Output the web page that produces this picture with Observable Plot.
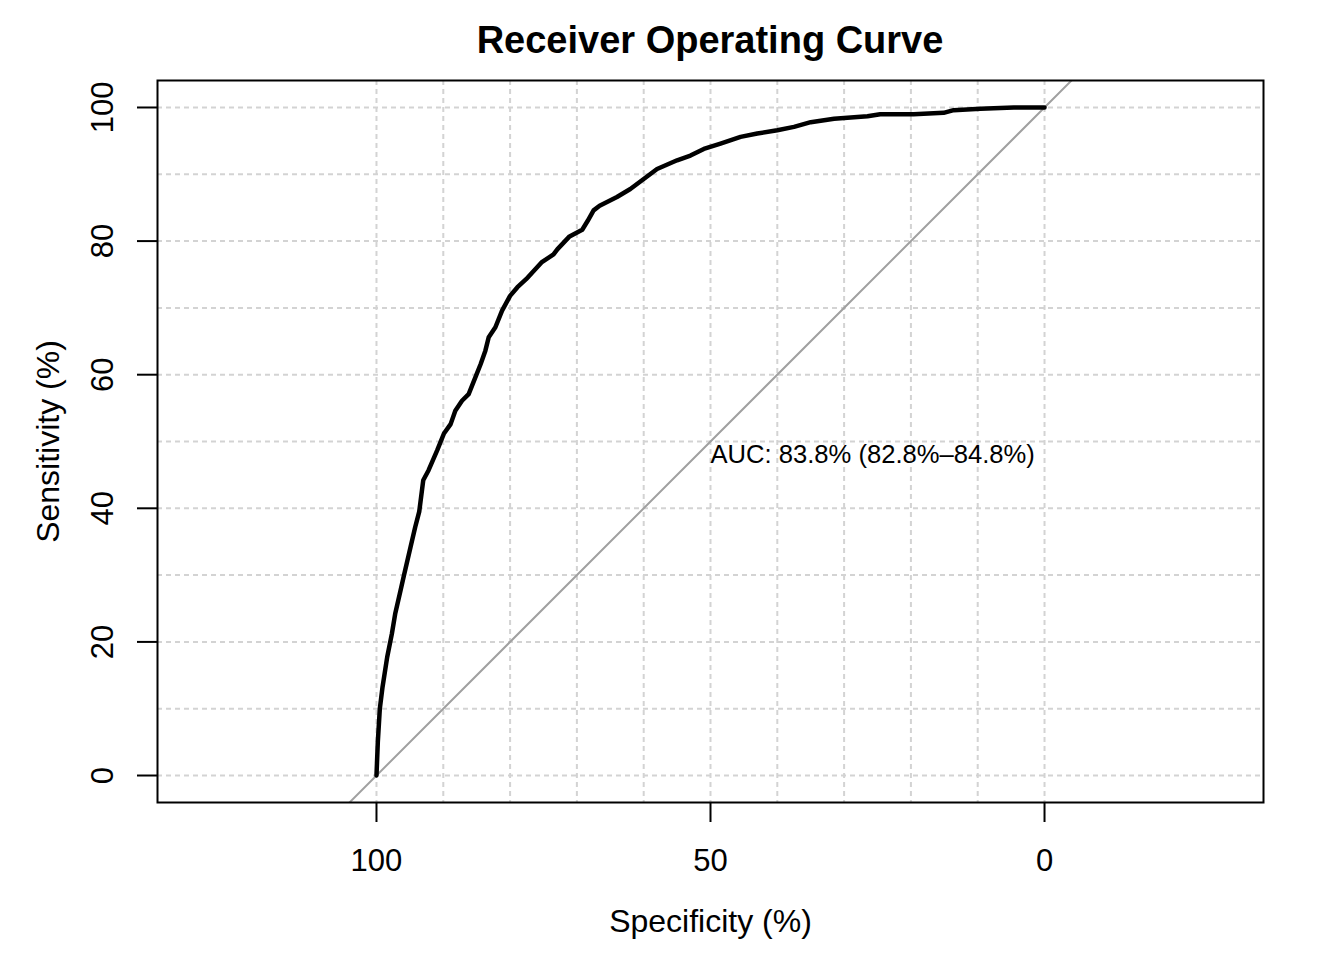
<!DOCTYPE html>
<html>
<head>
<meta charset="utf-8">
<script src="https://cdn.jsdelivr.net/npm/d3@7"></script>
<script src="https://cdn.jsdelivr.net/npm/@observablehq/plot@0.6"></script>
<style>
  html, body { margin: 0; padding: 0; background: #ffffff; }
  #page { position: relative; width: 1344px; height: 960px; background: #ffffff; font-family: "Liberation Sans", Arial, Helvetica, sans-serif; }
  #title { position: absolute; left: 0; top: 21px; width: 1420px; text-align: center; font-size: 38px; line-height: 38px; font-weight: bold; color: #000; }
  #chart { position: absolute; left: 0; top: 70px; }
  #chart svg { display: block; }
</style>
</head>
<body>
<div id="page">
  <div id="title">Receiver Operating Curve</div>
  <div id="chart"></div>
</div>
<script>
// ---- data ----
const titleText = "Receiver Operating Curve";
const xLabel = "Specificity (%)";
const yLabel = "Sensitivity (%)";

const specificity = [100, 99.8, 99.5, 99.1, 98.4, 97.7, 97.2, 96.4, 95.9, 94.9, 94.2, 93.6, 93.0, 92.2, 90.9, 89.9, 88.9, 88.2, 87.2, 86.2, 85.2, 84.4, 83.7, 83.2, 82.2, 81.2, 80.0, 78.9, 77.6, 76.4, 75.3, 73.5, 72.9, 71.1, 69.2, 68.4, 67.5, 66.6, 64.0, 62.0, 60.0, 58.0, 55.0, 53.0, 51.0, 48.5, 45.5, 43.0, 40.0, 37.5, 35.0, 31.5, 26.5, 24.6, 19.6, 15.1, 13.6, 9.6, 4.6, 0];
const sensitivity = [0, 5.0, 10.0, 13.2, 17.7, 21.2, 24.2, 27.7, 29.9, 34.2, 37.2, 39.5, 44.2, 45.7, 48.7, 51.2, 52.6, 54.6, 56.1, 57.1, 59.6, 61.6, 63.6, 65.6, 67.1, 69.6, 71.8, 73.1, 74.3, 75.6, 76.8, 78.0, 78.8, 80.7, 81.7, 83.0, 84.6, 85.3, 86.6, 87.8, 89.3, 90.8, 92.1, 92.8, 93.8, 94.6, 95.6, 96.1, 96.6, 97.1, 97.8, 98.3, 98.7, 99.0, 99.0, 99.2, 99.6, 99.8, 100, 100];

const xTicks = [100, 50, 0];
const yTicks = [0, 20, 40, 60, 80, 100];
const gridX = [0, 10, 20, 30, 40, 50, 60, 70, 80, 90, 100];
const gridY = [0, 10, 20, 30, 40, 50, 60, 70, 80, 90, 100];

const aucLabel = [{spec: 50, sens: 50, text: "AUC: 83.8% (82.8%\u201384.8%)"}];

// ---- build ----
document.getElementById("title").textContent = titleText;

const xDomain = [132.78, -32.78];
const yDomain = [-4.04, 104.04];

const curve = specificity.map((s, i) => ({spec: s, sens: sensitivity[i]}));
// identity line sens = 100 - spec, spanning the whole x domain (clipped to the frame)
const diagonal = xDomain.map(s => ({spec: s, sens: 100 - s}));

const chart = Plot.plot({
  width: 1344,
  height: 890,
  marginTop: 10,
  marginBottom: 158,
  marginLeft: 157,
  marginRight: 81,
  style: {fontFamily: '"Liberation Sans", Arial, Helvetica, sans-serif', color: "#000", background: "#fff", overflow: "visible"},
  x: {domain: xDomain},
  y: {domain: yDomain},
  marks: [
    Plot.ruleX(gridX, {x: d => d, stroke: "#d3d3d3", strokeWidth: 2, strokeDasharray: "5,4"}),
    Plot.ruleY(gridY, {y: d => d, stroke: "#d3d3d3", strokeWidth: 2, strokeDasharray: "5,4"}),
    Plot.line(diagonal, {x: "spec", y: "sens", stroke: "#a0a0a0", strokeWidth: 2, clip: true}),
    Plot.line(curve, {x: "spec", y: "sens", stroke: "#000", strokeWidth: 4.5, strokeLinejoin: "round", strokeLinecap: "round"}),
    Plot.frame({stroke: "#000", strokeWidth: 2}),
    Plot.axisX({ticks: xTicks, tickSize: 20, tickPadding: 26, fontSize: 31, strokeWidth: 2, label: null, tickFormat: d => String(d)}),
    Plot.axisY({ticks: yTicks, tickSize: 20, tickPadding: 25, tickRotate: -90, fontSize: 31, strokeWidth: 2, label: null, tickFormat: d => String(d)}),
    Plot.text(aucLabel, {x: "spec", y: "sens", text: "text", textAnchor: "start", lineAnchor: "top", dy: 3, fontSize: 25.6, fill: "#000"}),
    Plot.text([xLabel], {text: d => d, frameAnchor: "bottom", dy: 129, lineAnchor: "bottom", textAnchor: "middle", fontSize: 32, fill: "#000"}),
    Plot.text([yLabel], {text: d => d, frameAnchor: "left", dx: -99, rotate: -90, lineAnchor: "bottom", textAnchor: "middle", fontSize: 32, fill: "#000"})
  ]
});
document.getElementById("chart").appendChild(chart);
</script>
</body>
</html>
